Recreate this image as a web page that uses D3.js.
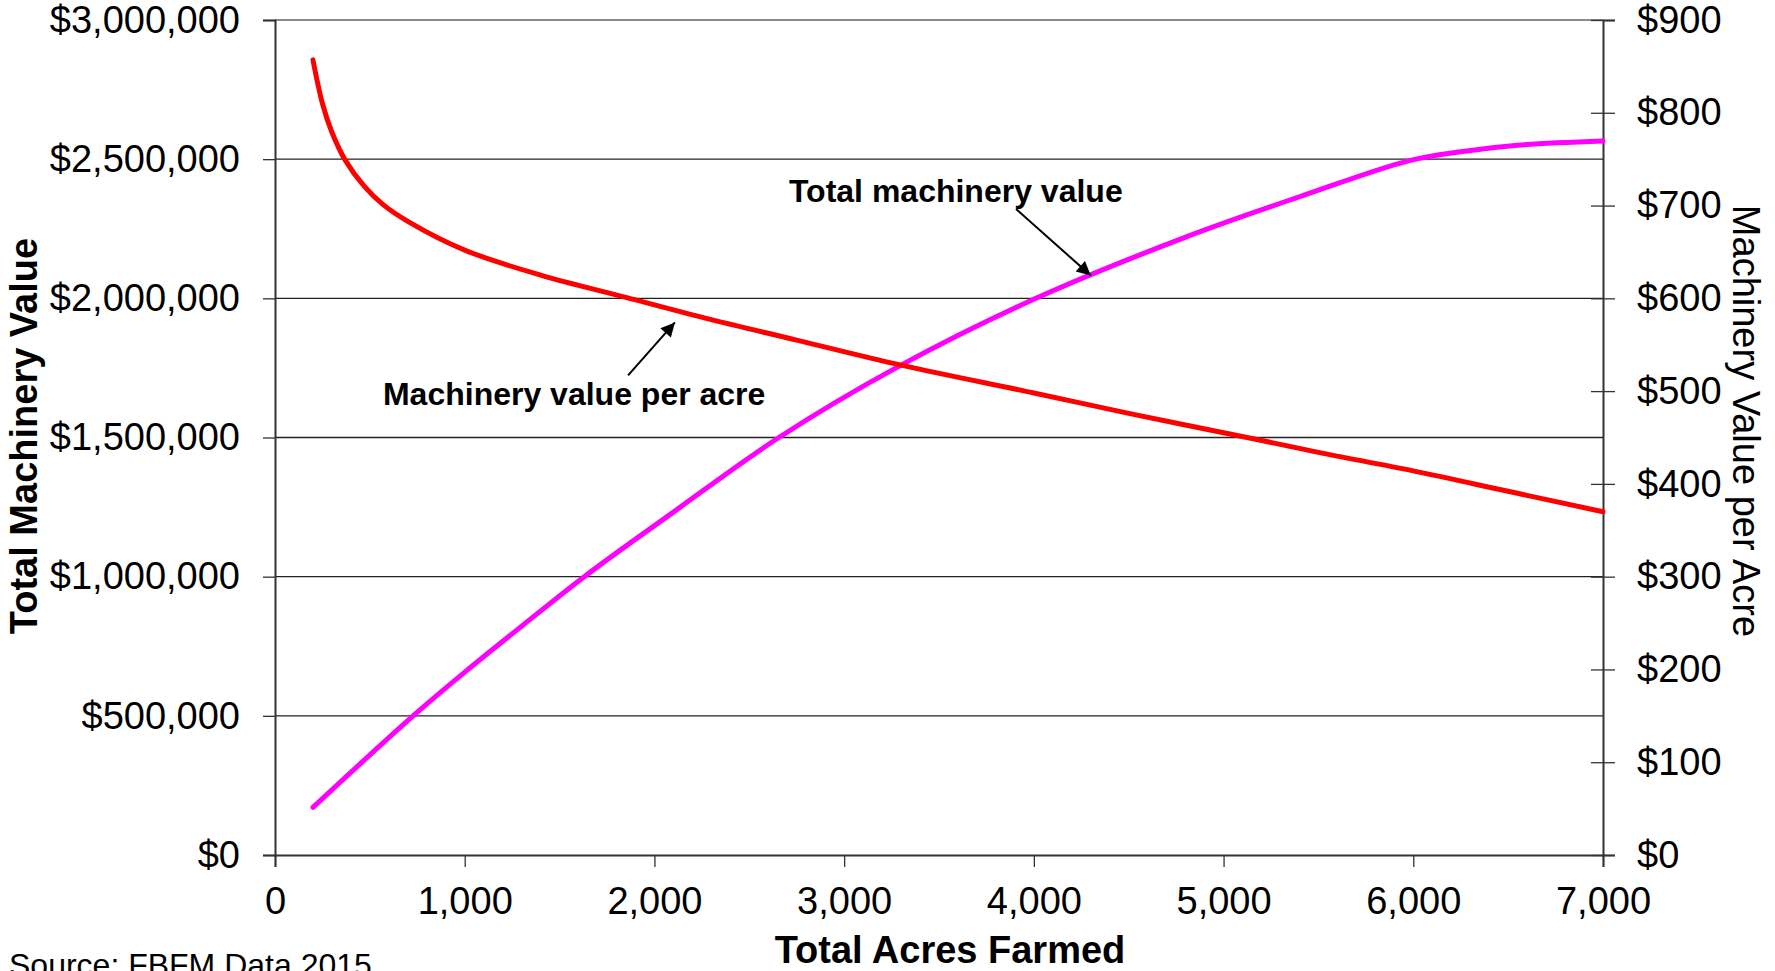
<!DOCTYPE html>
<html>
<head>
<meta charset="utf-8">
<script src="https://cdn.jsdelivr.net/npm/d3@7"></script>
<style>
  body { margin: 0; background: #fff; overflow: hidden; }
  svg { display: block; font-family: "Liberation Sans", Arial, sans-serif; }
</style>
</head>
<body>
<div class="chart"></div>
<script>
const width = 1775
const height = 971

// acres farmed vs. total machinery value (left axis)
const totalAcres = [200, 728, 1000, 1300, 1630, 2100, 2656, 3300, 4011, 4800, 5400, 5979, 6250, 6550, 7000];
const totalValue = [171000, 500000, 657000, 822000, 1000000, 1232000, 1500000, 1760000, 2000000, 2220000, 2365000, 2495000, 2527000, 2550000, 2565000];

// acres farmed vs. machinery value per acre (right axis)
const perAcreAcres = [200, 250, 300, 370, 470, 570, 700, 1000, 1400, 1850, 2300, 2750, 3300, 4000, 4500, 5150, 5500, 6000, 6500, 7000];
const perAcreValue = [857, 810, 779, 749, 721, 701, 683, 652, 625, 601, 577, 555, 528, 498, 476, 449, 434, 414, 392, 370];

const xTicks = [0, 1000, 2000, 3000, 4000, 5000, 6000, 7000];
const leftTicks = [0, 500000, 1000000, 1500000, 2000000, 2500000, 3000000];
const rightTicks = [0, 100, 200, 300, 400, 500, 600, 700, 800, 900];

const margin = {top: 20, right: 172, bottom: 116, left: 275};

const x = d3.scaleLinear().domain([0, 7000]).range([margin.left, width - margin.right]);
const yLeft = d3.scaleLinear().domain([0, 3000000]).range([height - margin.bottom, margin.top]);
const yRight = d3.scaleLinear().domain([0, 900]).range([height - margin.bottom, margin.top]);

const svg = d3.create("svg")
  .attr("width", width)
  .attr("height", height)
  .attr("viewBox", [0, 0, width, height]);

svg.append("defs").append("marker")
  .attr("id", "arrow")
  .attr("viewBox", "0 0 10 10")
  .attr("refX", 10)
  .attr("refY", 5)
  .attr("markerUnits", "userSpaceOnUse")
  .attr("markerWidth", 17)
  .attr("markerHeight", 14)
  .attr("orient", "auto")
  .append("path")
  .attr("d", "M0,0L10,5L0,10Z")
  .attr("fill", "#000");

// gridlines
svg.append("g")
  .selectAll("line")
  .data(leftTicks.slice(1))
  .join("line")
  .attr("x1", x(0))
  .attr("x2", x(7000))
  .attr("y1", d => yLeft(d))
  .attr("y2", d => yLeft(d))
  .attr("stroke", d => d === 3000000 ? "#8a8a8a" : "#222")
  .attr("stroke-width", d => d === 3000000 ? 2 : 1.3);

const fmtMoney = d3.format("$,.0f");

// left axis
const gLeft = svg.append("g")
  .attr("transform", `translate(${x(0)},0)`)
  .call(d3.axisLeft(yLeft).tickValues(leftTicks).tickFormat(fmtMoney).tickSize(12).tickPadding(23));

// right axis
const gRight = svg.append("g")
  .attr("transform", `translate(${x(7000)},0)`)
  .call(d3.axisRight(yRight).tickValues(rightTicks).tickFormat(fmtMoney).tickSize(12).tickPadding(22));
gRight.selectAll(".tick line").attr("x1", -12);

// bottom axis
const gBottom = svg.append("g")
  .attr("transform", `translate(0,${yLeft(0)})`)
  .call(d3.axisBottom(x).tickValues(xTicks).tickFormat(d3.format(",")).tickSize(12).tickPadding(20));

[gLeft, gRight, gBottom].forEach(g => {
  g.select(".domain").attr("stroke", "#333").attr("stroke-width", 2);
  g.selectAll(".tick line").attr("stroke", "#333").attr("stroke-width", 1.3);
  g.selectAll(".tick text")
    .attr("fill", "#000")
    .style("font-size", "38px")
    .style("font-family", "'Liberation Sans', Arial, sans-serif");
});

// lines
const totalPoints = totalAcres.map((a, i) => [a, totalValue[i]]);
const perAcrePoints = perAcreAcres.map((a, i) => [a, perAcreValue[i]]);

svg.append("path")
  .datum(totalPoints)
  .attr("fill", "none")
  .attr("stroke", "#ff00ff")
  .attr("stroke-width", 5)
  .attr("stroke-linecap", "round")
  .attr("d", d3.line().x(d => x(d[0])).y(d => yLeft(d[1])).curve(d3.curveCatmullRom.alpha(0.5)));

svg.append("path")
  .datum(perAcrePoints)
  .attr("fill", "none")
  .attr("stroke", "#ff0000")
  .attr("stroke-width", 5)
  .attr("stroke-linecap", "round")
  .attr("d", d3.line().x(d => x(d[0])).y(d => yRight(d[1])).curve(d3.curveCatmullRom.alpha(0.5)));

// annotations
svg.append("text")
  .attr("x", x(2709))
  .attr("y", yLeft(2346000))
  .style("font", "bold 32px 'Liberation Sans', Arial, sans-serif")
  .text("Total machinery value");

svg.append("line")
  .attr("x1", x(3906)).attr("y1", yLeft(2321000))
  .attr("x2", x(4300)).attr("y2", yLeft(2082000))
  .attr("stroke", "#000")
  .attr("stroke-width", 2)
  .attr("marker-end", "url(#arrow)");

svg.append("text")
  .attr("x", x(569))
  .attr("y", yRight(485))
  .style("font", "bold 32px 'Liberation Sans', Arial, sans-serif")
  .text("Machinery value per acre");

svg.append("line")
  .attr("x1", x(1861)).attr("y1", yRight(517))
  .attr("x2", x(2108)).attr("y2", yRight(574))
  .attr("stroke", "#000")
  .attr("stroke-width", 2)
  .attr("marker-end", "url(#arrow)");

// axis titles
svg.append("text")
  .attr("transform", `translate(37,436) rotate(-90)`)
  .attr("text-anchor", "middle")
  .style("font", "bold 38px 'Liberation Sans', Arial, sans-serif")
  .text("Total Machinery Value");

svg.append("text")
  .attr("transform", `translate(1733,421) rotate(90)`)
  .attr("text-anchor", "middle")
  .style("font", "38px 'Liberation Sans', Arial, sans-serif")
  .text("Machinery Value per Acre");

svg.append("text")
  .attr("x", 950)
  .attr("y", 963)
  .attr("text-anchor", "middle")
  .style("font", "bold 38px 'Liberation Sans', Arial, sans-serif")
  .text("Total Acres Farmed");

svg.append("text")
  .attr("x", 9)
  .attr("y", 976)
  .style("font", "32px 'Liberation Sans', Arial, sans-serif")
  .text("Source: FBFM Data 2015");

document.querySelector(".chart").append(svg.node());
</script>
</body>
</html>
